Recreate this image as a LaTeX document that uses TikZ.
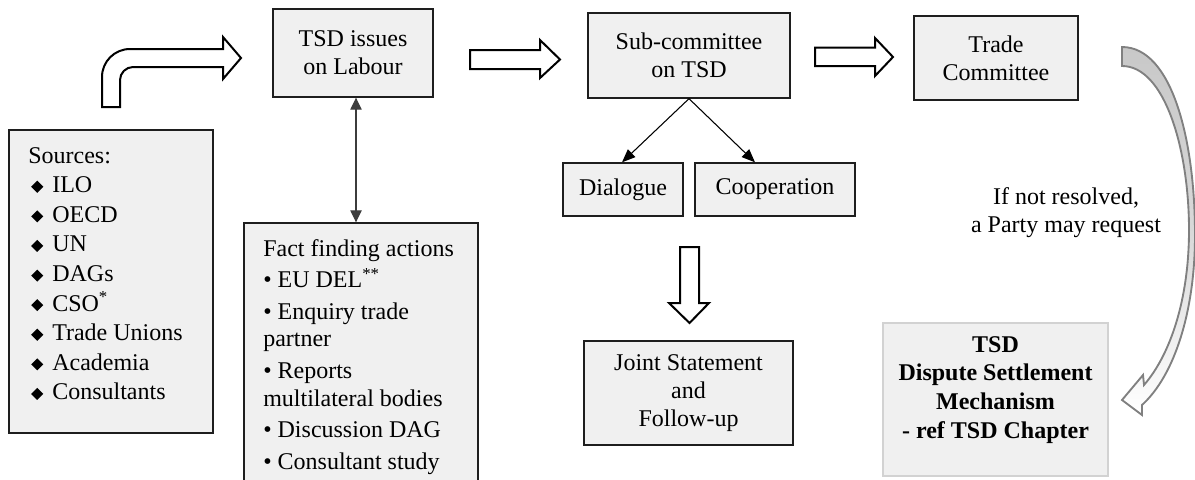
\documentclass[tikz,border=0pt]{standalone}
\usepackage{fontspec}
\usepackage{graphicx}
\setmainfont{Liberation Serif}
\usetikzlibrary{arrows.meta}

\definecolor{boxfill}{RGB}{240,240,240}
\definecolor{boxline}{RGB}{30,30,30}
\definecolor{softline}{RGB}{210,210,210}
\definecolor{bandfill}{RGB}{200,200,200}
\definecolor{bandline}{RGB}{128,128,128}
\definecolor{linkline}{RGB}{60,60,60}

% small black diamond used as list bullet
\newcommand{\dmd}{\makebox[18pt][l]{\hspace{2.2pt}\raisebox{1.3pt}{\rotatebox[origin=c]{45}{\rule{6.4pt}{6.4pt}}}}}

\tikzset{
  box/.style={draw=boxline, line width=1pt, fill=boxfill, inner sep=2pt,
              align=center, font=\fontsize{18}{21}\selectfont},
  softbox/.style={box, draw=softline},
  listtext/.style={inner sep=0pt, align=left, anchor=north west,
              font=\fontsize{18}{20.7}\selectfont},
  plaintext/.style={inner sep=0pt, align=center, font=\fontsize{18}{21}\selectfont},
  blockarrow/.style={draw=black, line width=1.5pt, fill=white, line join=miter},
  link/.style={draw=black, line width=0.8pt, -{Triangle[length=10pt,width=8pt]}},
  twoway/.style={draw=linkline, line width=0.9pt,
              {Triangle[length=9pt,width=8.5pt]}-{Triangle[length=9pt,width=8.5pt]}},
}

\begin{document}
\begin{tikzpicture}[x=0.75pt, y=-0.75pt]
\useasboundingbox (0,0) rectangle (1195,479);
\clip (0,0) rectangle (1195,479);

% ---- boxes ----
\node[box, minimum width=120pt,    minimum height=66pt]    (tsd)   at (353,53)     {TSD issues\\on Labour};
\node[box, minimum width=151.5pt,  minimum height=63.75pt] (sub)   at (689,55.5)   {Sub-committee\\on TSD};
\node[box, minimum width=123pt,    minimum height=63pt]    (trade) at (996,58)     {Trade\\Committee};
\node[box, minimum width=90pt,     minimum height=39.75pt] (dia)   at (623,189.5)  {Dialogue};
\node[box, minimum width=120pt,    minimum height=39.75pt] (coop)  at (775,189.5)  {Cooperation};
\node[box, minimum width=156.75pt, minimum height=78pt]    (joint) at (688.5,393)  {Joint Statement\\and\\Follow-up};
\node[softbox, minimum width=168.75pt, minimum height=114.75pt] (dsm) at (995.5,399.5) {};
\node[plaintext, font=\fontsize{18}{21.6}\selectfont\bfseries] (dsmtext) at (995.5,390)
  {TSD\\Dispute Settlement\\Mechanism\\- ref TSD Chapter};

\node[box, minimum width=153pt,   minimum height=227.25pt] (src)  at (111,281.5) {};
\node[listtext] (srctext) at (28,147) {Sources:\\[1.5pt]
  \dmd ILO\\[1.5pt]
  \dmd OECD\\[1.5pt]
  \dmd UN\\[1.5pt]
  \dmd DAGs\\[1.5pt]
  \dmd CSO\textsuperscript{*}\\[1.5pt]
  \dmd Trade Unions\\[1.5pt]
  \dmd Academia\\[1.5pt]
  \dmd Consultants};

\node[box, minimum width=175.5pt, minimum height=207.75pt] (fact) at (361,361.5) {};
\node[listtext] (facttext) at (263,239) {Fact finding actions\\[3pt]
  • EU DEL\textsuperscript{**}\\[3pt]
  • Enquiry trade\\
  partner\\[3pt]
  • Reports\\
  multilateral bodies\\[3pt]
  • Discussion DAG\\[3pt]
  • Consultant study};

\node[plaintext] (note) at (1066,213) {If not resolved,\\a Party may request};

% ---- thin connectors ----
\draw[twoway] ([xshift=2.25pt]tsd.south) -- ([xshift=2.25pt]tsd.south |- fact.north);
\draw[link] (sub.south) -- ([xshift=-0.75pt]dia.north);
\draw[link] (sub.south) -- ([xshift=-15pt]coop.north);

% ---- block arrows ----
% bent arrow from the sources up and across to the labour issues
\draw[blockarrow] (102,107) -- (102,77) .. controls (102,61.5) and (114.5,49) .. (130,49)
  -- (223,49) -- (223,37) -- (241,58) -- (223,79) -- (223,67) -- (133,67)
  .. controls (126,67) and (120,73) .. (120,80) -- (120,107) -- cycle;
% labour issues to sub-committee
\draw[blockarrow] (470,50) -- (540,50) -- (540,40) -- (560,59.5) -- (540,78) -- (540,69) -- (470,69) -- cycle;
% sub-committee to trade committee
\draw[blockarrow] (815,47.5) -- (875,47.5) -- (875,38) -- (893,57) -- (875,76) -- (875,66) -- (815,66) -- cycle;
% down to the joint statement
\draw[blockarrow] (680,247) -- (699,247) -- (699,303) -- (709,303) -- (689.5,323) -- (669,303) -- (680,303) -- cycle;

% ---- curved tapering arrow to the dispute settlement mechanism ----
\path[draw=bandline, line width=1.4pt, line join=miter,
      top color=bandfill, bottom color=white, middle color=bandfill!70!white]
  (1122,47) .. controls (1172,47) and (1195,140) .. (1195,235)
  .. controls (1195,310) and (1175,375) .. (1142,405)
  -- (1142,415) -- (1122,400) -- (1143,375) -- (1144,385)
  .. controls (1170,355) and (1189,300) .. (1189,230)
  .. controls (1189,150) and (1165,66) .. (1122,66) -- cycle;
\end{tikzpicture}
\end{document}
